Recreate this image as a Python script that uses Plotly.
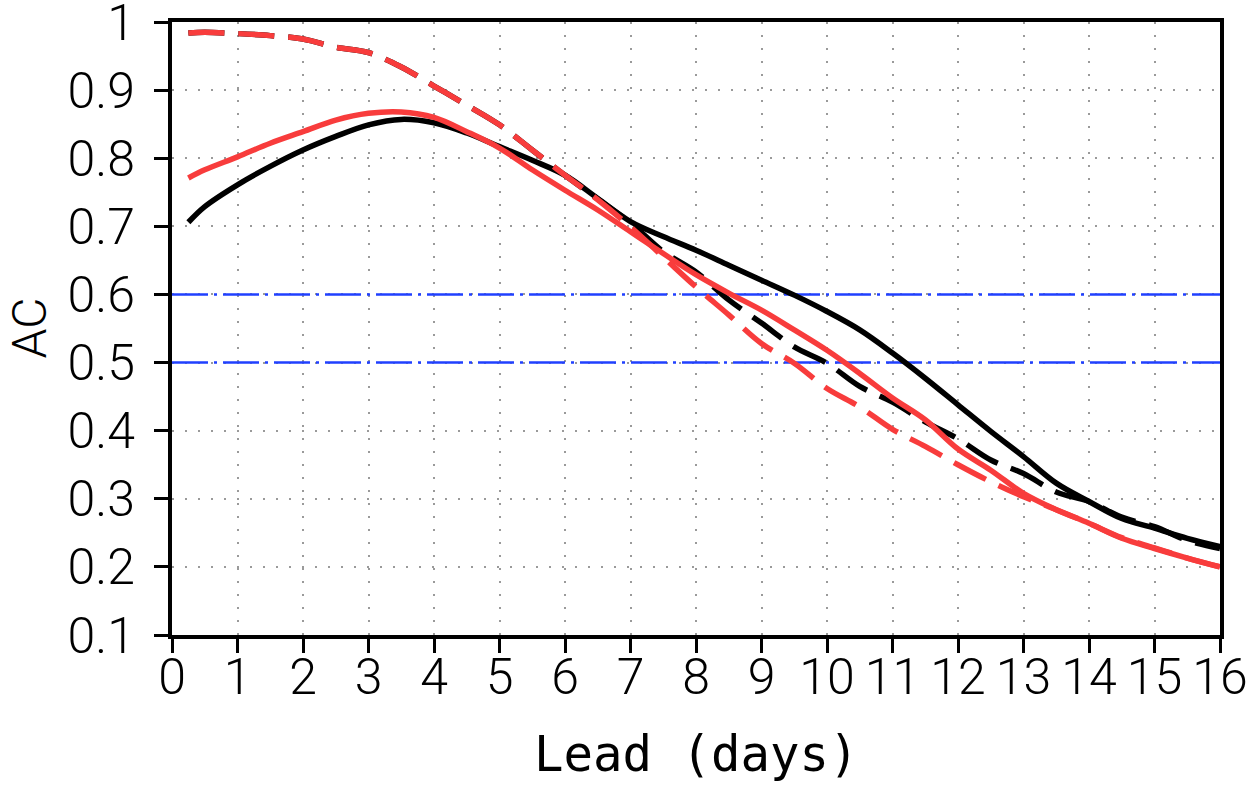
import plotly.graph_objects as go

# ---- data ----
lead = [0.25, 0.5, 1, 1.5, 2, 2.5, 3, 3.5, 4, 4.5, 5, 5.5, 6, 6.5, 7, 7.5, 8,
        8.5, 9, 9.5, 10, 10.5, 11, 11.5, 12, 12.5, 13, 13.5, 14, 14.5, 15, 15.5, 16]

black_solid = [0.706, 0.729, 0.761, 0.788, 0.812, 0.832, 0.849, 0.857, 0.852, 0.837,
               0.817, 0.797, 0.775, 0.741, 0.707, 0.685, 0.665, 0.643, 0.621, 0.599,
               0.575, 0.548, 0.514, 0.477, 0.438, 0.399, 0.362, 0.323, 0.296, 0.271,
               0.257, 0.242, 0.230]

black_dash = [0.984, 0.985, 0.983, 0.980, 0.975, 0.963, 0.955, 0.934, 0.906, 0.878,
              0.849, 0.812, 0.775, 0.740, 0.705, 0.663, 0.633, 0.592, 0.558, 0.523,
              0.499, 0.465, 0.442, 0.413, 0.388, 0.357, 0.337, 0.310, 0.296, 0.273,
              0.259, 0.239, 0.227]

red_solid = [0.771, 0.783, 0.802, 0.822, 0.839, 0.856, 0.866, 0.868, 0.860, 0.839,
             0.815, 0.783, 0.753, 0.724, 0.692, 0.660, 0.629, 0.602, 0.577, 0.548,
             0.518, 0.484, 0.448, 0.416, 0.373, 0.342, 0.308, 0.284, 0.264, 0.242,
             0.227, 0.213, 0.200]

red_dash = [0.984, 0.985, 0.983, 0.980, 0.975, 0.963, 0.955, 0.934, 0.906, 0.878,
            0.849, 0.812, 0.775, 0.739, 0.699, 0.655, 0.611, 0.570, 0.528, 0.499,
            0.462, 0.435, 0.402, 0.377, 0.350, 0.325, 0.303, 0.284, 0.264, 0.243,
            0.228, 0.213, 0.200]

ref_levels = [0.6, 0.5]
x_range = [0, 16]
y_range = [0.1, 1.0]
x_ticks = list(range(0, 17))
y_ticks = [0.1, 0.2, 0.3, 0.4, 0.5, 0.6, 0.7, 0.8, 0.9, 1.0]
y_tick_text = ["0.1", "0.2", "0.3", "0.4", "0.5", "0.6", "0.7", "0.8", "0.9", "1"]

BLACK = "#000000"
RED = "#f83c3c"
BLUE = "#2040ff"
FONT = "Roboto, Lato, 'Open Sans', sans-serif"
TITLE_FONT = "'DejaVu Sans Mono', 'Liberation Mono', monospace"

fig = go.Figure()

for lvl in ref_levels:
    fig.add_trace(go.Scatter(x=x_range, y=[lvl, lvl], mode="lines",
                             line=dict(color=BLUE, width=2.5, dash="36px,6px,3px,6px"),
                             hoverinfo="skip", showlegend=False))

fig.add_trace(go.Scatter(x=lead, y=black_solid, mode="lines", line_shape="spline",
                         line=dict(color=BLACK, width=5.5), showlegend=False))
fig.add_trace(go.Scatter(x=lead, y=black_dash, mode="lines", line_shape="spline",
                         line=dict(color=BLACK, width=5.5, dash="36px,14px"), showlegend=False))
fig.add_trace(go.Scatter(x=lead, y=red_solid, mode="lines", line_shape="spline",
                         line=dict(color=RED, width=5.5), showlegend=False))
fig.add_trace(go.Scatter(x=lead, y=red_dash, mode="lines", line_shape="spline",
                         line=dict(color=RED, width=5.5, dash="36px,14px"), showlegend=False))

axis_common = dict(
    showline=True, linecolor=BLACK, linewidth=4, mirror=True,
    ticks="outside", ticklen=14, tickwidth=2.5, tickcolor=BLACK,
    showgrid=True, gridcolor="#9a9a9a", gridwidth=1.5, griddash="2px,11px",
    zeroline=False, automargin=False, ticklabeloverflow="allow",
    tickfont=dict(family=FONT, size=50, color=BLACK, weight=300),
)

fig.update_xaxes(range=x_range, tickvals=x_ticks, ticktext=[str(v) for v in x_ticks],
                 ticklabelstandoff=-19, **axis_common)
fig.update_yaxes(range=[y_range[0], y_range[1] + 1e-9], tickvals=y_ticks, ticktext=y_tick_text,
                 ticklabelstandoff=9, **axis_common)

fig.add_annotation(text="Lead (days)", x=0.5, y=0, xref="paper", yref="paper",
                   xanchor="center", yanchor="middle", yshift=-119, showarrow=False,
                   font=dict(family=TITLE_FONT, size=49, color=BLACK))
fig.add_annotation(text="AC", x=0, y=0.5, xref="paper", yref="paper",
                   xanchor="center", yanchor="middle", xshift=-143, textangle=-90,
                   showarrow=False,
                   font=dict(family=FONT, size=48, color=BLACK, weight=300))

fig.update_layout(
    width=1249, height=789,
    margin=dict(l=172, r=29, t=22, b=154),
    paper_bgcolor="white", plot_bgcolor="white",
    showlegend=False,
)

# remove the default 8px page margin so the figure fills the window exactly
fig.write_html("out.html",
               config={"displayModeBar": False},
               post_script="document.body.style.margin='0';document.body.style.overflow='hidden';")
